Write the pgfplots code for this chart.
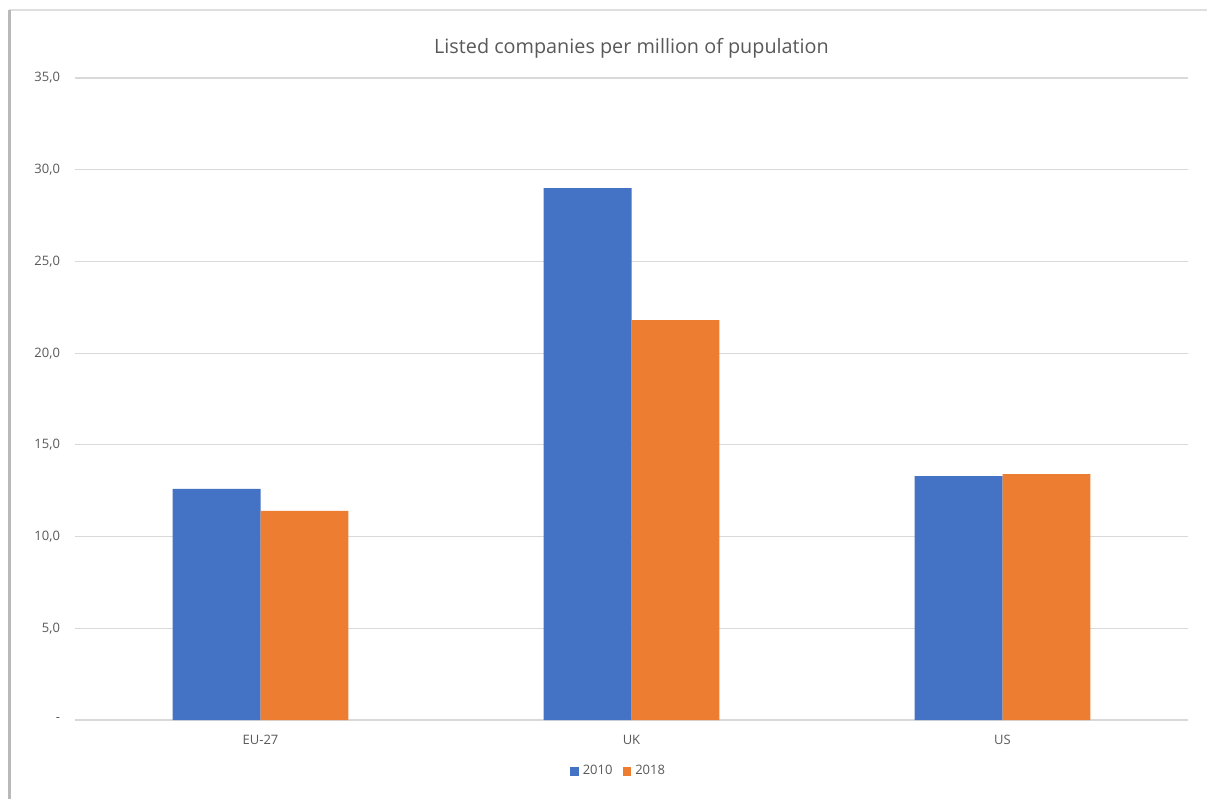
\documentclass[border=0pt]{standalone}
\usepackage{pgfplots}
\pgfplotsset{compat=1.18}
\usepackage{fontspec}
\setmainfont{Open Sans}
\definecolor{cblue}{RGB}{68,114,196}
\definecolor{corange}{RGB}{237,125,49}
\definecolor{txt}{RGB}{89,89,89}
\definecolor{gridc}{RGB}{217,217,217}
\begin{document}
\begin{tikzpicture}[x=1pt,y=1pt]
\path[use as bounding box] (0,0) rectangle (605,399.5);
\fill[white] (0,0) rectangle (605,399.5);
% frame
\draw[gray!25, line width=1.2pt] (4.5,394.5) -- (603.5,394.5);
\draw[gray!55, line width=1.5pt] (4.5,0) -- (4.5,394.5);
\begin{axis}[
  at={(37.5pt,39.5pt)}, anchor=south west,
  scale only axis, width=556.5pt, height=321pt,
  ybar, bar width=0.237,
  xmin=-0.5, xmax=2.5, ymin=0, ymax=35,
  xtick={0,1,2}, xticklabels={EU-27,UK,US},
  ytick={0,5,10,15,20,25,30,35},
  yticklabels={-,{5,0},{10,0},{15,0},{20,0},{25,0},{30,0},{35,0}},
  xmajorgrids=false, ymajorgrids=true,
  major grid style={draw=gridc, line width=0.6pt},
  axis line style={draw=none},
  axis x line*=bottom,
  x axis line style={draw=gridc, line width=0.6pt},
  major tick length=0pt,
  tick style={draw=none},
  ticklabel style={font=\fontsize{6.5}{8}\selectfont, text=txt},
  yticklabel style={xshift=-4pt},
  xticklabel style={yshift=-4pt},
  title={Listed companies per million of pupulation},
  title style={font=\fontsize{9.9}{11}\selectfont, text=txt, at={(0.5,1.0)}, yshift=0.5pt, anchor=south},
  legend style={at={(0.5,-0.08)}, anchor=center, xshift=-6pt, draw=none, legend columns=2,
    font=\fontsize{6.5}{8}\selectfont, text=txt, /tikz/every even column/.append style={column sep=3pt}},
  legend image code/.code={\fill[#1] (0pt,-2.2pt) rectangle (4.4pt,2.2pt);},
  /pgf/number format/assume math mode=true,
]
\addplot[fill=cblue, draw=none, bar shift=-0.1185] coordinates {(0,12.6) (1,29.0) (2,13.3)};
\addplot[fill=corange, draw=none, bar shift=0.1185] coordinates {(0,11.4) (1,21.8) (2,13.4)};
\legend{2010,2018}
\end{axis}
\end{tikzpicture}
\end{document}
